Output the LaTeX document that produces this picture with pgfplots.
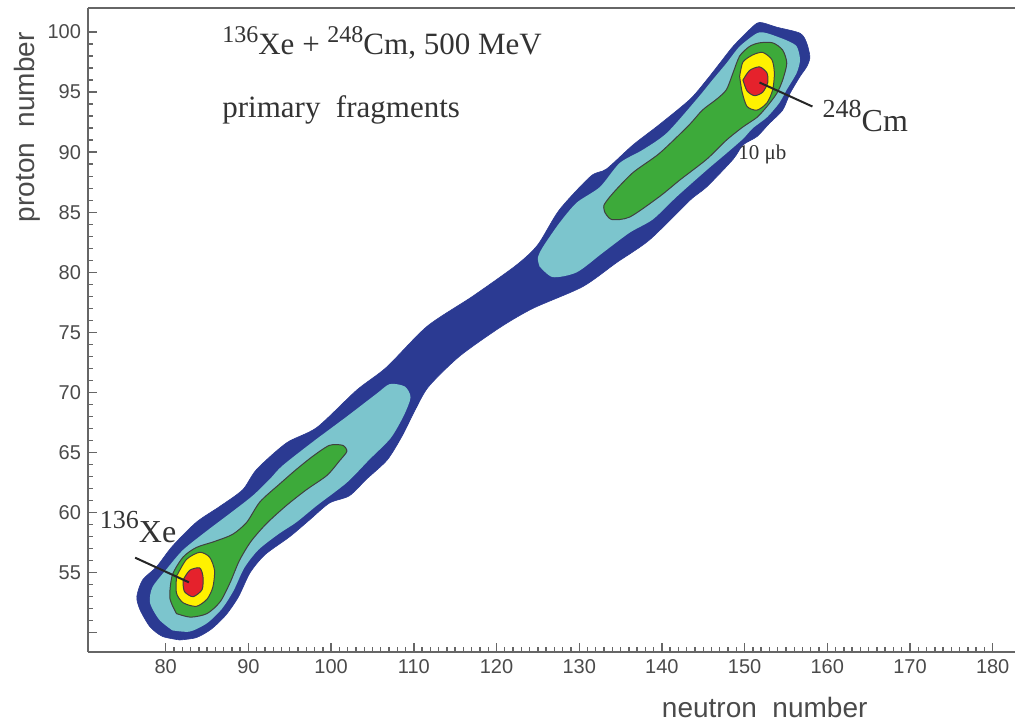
\documentclass[border=0pt]{standalone}
\usepackage{fontspec}
\setmainfont{Liberation Serif}
\setsansfont{Liberation Sans}
\usepackage{pgfplots}
\pgfplotsset{compat=1.18}

\definecolor{dkblue}{HTML}{2B3A92}
\definecolor{ltblue}{HTML}{7CC5CD}
\definecolor{cgreen}{HTML}{3DAA3A}
\definecolor{cyellow}{HTML}{FFF100}
\definecolor{cred}{HTML}{E5222C}
\definecolor{axisgray}{HTML}{666666}
\definecolor{tickgray}{HTML}{4A4A4A}
\definecolor{anncol}{HTML}{333333}

% superscript mass number: size, raise, text
\newcommand{\iso}[3]{\raisebox{#2}{\fontsize{#1}{#1}\selectfont #3}}

\begin{document}
\begin{tikzpicture}
\begin{axis}[
  scale only axis,
  width=463.5pt, height=322pt,
  xmin=70.6, xmax=182.7, ymin=48.4, ymax=102,
  axis x line*=bottom, axis y line*=left,
  axis line style={draw=axisgray, line width=0.9pt, -},
  xtick={80,90,...,180},
  ytick={50,55,...,100},
  yticklabels={,55,60,65,70,75,80,85,90,95,100},
  minor x tick num=9, minor y tick num=4,
  tick align=inside,
  major tick length=4.5pt, minor tick length=2.4pt,
  tick style={draw=axisgray, line width=0.7pt},
  tick label style={font=\sffamily\fontsize{10}{12}\selectfont, text=tickgray},
  /pgf/number format/assume math mode=true,
  xlabel={neutron\ \ number},
  ylabel={proton\ \ number},
  label style={font=\sffamily\fontsize{14}{16}\selectfont, text=tickgray},
  xlabel style={at={(axis description cs:0.730,-0.086)}, anchor=center},
  ylabel style={at={(axis description cs:-0.066,0.815)}, anchor=center},
  contour/.style={smooth, tension=0.45},
  clip=false,
]
% top frame line
\draw[axisgray, line width=0.9pt] (rel axis cs:0,1) -- (rel axis cs:1,1);

% outermost contour (10 mub)
\addplot[contour, fill=dkblue, draw=dkblue, line width=0.3pt] coordinates {
(81.7,49.4) (83.7,49.6) (85.5,50.3) (87.3,51.5) (88.8,53.0) (90.2,55.0)
(92.0,56.5) (95.0,58.0) (97.4,59.4) (99.8,60.8) (102.2,61.4) (104.3,62.8)
(106.8,64.4) (108.6,66.4) (110.2,68.6) (111.8,70.5) (115.5,73.0) (120.4,75.4)
(124.4,77.0) (130.4,78.8) (134.5,80.8) (138.5,82.7) (143.4,86.0) (145.4,87.1)
(148.6,89.4) (149.8,90.6) (151.5,91.3) (153.0,92.4) (154.6,93.5) (155.5,94.9)
(156.7,96.3) (157.5,97.1) (157.9,97.9) (157.5,99.1) (156.7,99.9) (153.9,100.4)
(151.8,100.8) (150.6,100.2) (148.6,98.8) (147.0,97.4) (145.4,96.0) (143.4,94.4)
(139.7,92.3) (136.5,90.6) (133.3,88.6) (131.4,88.0) (127.6,85.2) (125.0,82.3)
(122.4,80.6) (117.1,78.0) (111.6,75.5) (106.7,72.1) (103.1,70.2) (98.3,67.1)
(94.6,65.8) (91.0,63.6) (89.3,61.9) (86.5,60.5) (83.7,59.2) (80.8,57.2)
(78.9,55.5) (77.2,54.4) (76.5,53.0) (76.9,51.9) (78.1,50.5) (79.6,49.7)
(81.7,49.4)
} -- cycle;

% second level, lower and upper parts
\addplot[contour, fill=ltblue, draw=none] coordinates {
(80.8,50.2) (82.9,50.1) (85.0,50.8) (86.8,52.0) (88.2,53.5) (89.5,55.4)
(91.2,56.9) (93.6,58.2) (95.8,59.2) (98.3,60.6) (101.9,62.5) (104.6,64.4)
(107.2,66.2) (108.8,68.1) (109.6,69.6) (108.9,70.5) (107.1,70.7) (105.5,69.9)
(101.9,68.0) (97.8,65.9) (94.1,63.9) (92.6,62.8) (90.5,61.4) (87.7,59.9)
(85.0,58.5) (82.1,56.9) (80.1,55.3) (78.4,53.8) (78.1,52.5) (79.2,51.1)
(80.8,50.2)
} -- cycle;
\addplot[contour, fill=ltblue, draw=none] coordinates {
(125.2,80.5) (126.8,79.6) (129.7,80.0) (132.8,81.6) (136.1,83.3) (138.9,84.4)
(141.8,86.3) (145.4,88.5) (147.8,89.9) (149.8,91.1) (151.0,92.0) (152.7,92.9)
(154.2,94.1) (155.1,95.2) (156.3,96.6) (156.7,97.7) (156.3,98.8) (155.1,99.3)
(152.7,99.9) (151.5,99.9) (149.4,98.8) (147.8,97.4) (146.1,96.0) (144.2,94.4)
(140.6,91.6) (137.7,90.2) (134.9,89.1) (132.5,87.1) (129.7,85.8) (127.6,84.1)
(125.6,82.1) (125.0,81.2) (125.2,80.5)
} -- cycle;

% third level
\addplot[contour, fill=cgreen, draw=black!75, line width=0.5pt] coordinates {
(81.3,51.6) (83.0,51.3) (85.0,51.6) (86.6,52.6) (87.8,54.2) (88.9,56.0)
(90.3,57.6) (92.2,59.1) (94.6,60.6) (97.0,61.9) (99.5,63.1) (101.0,64.3)
(101.9,65.1) (101.4,65.6) (99.8,65.6) (97.8,64.7) (95.8,63.6) (93.8,62.4)
(91.4,60.9) (89.8,59.2) (88.1,58.2) (85.9,57.6) (83.7,57.1) (82.1,56.3)
(80.8,54.8) (80.5,52.9) (81.3,51.6)
} -- cycle;
\addplot[contour, fill=cgreen, draw=black!75, line width=0.5pt] coordinates {
(133.1,85.0) (133.9,84.4) (136.1,84.6) (139.7,86.3) (142.2,87.7) (145.4,89.4)
(147.8,91.0) (149.8,92.1) (151.5,92.9) (152.7,93.8) (153.9,94.9) (154.6,96.0)
(155.1,97.4) (154.6,98.5) (153.4,99.1) (151.8,99.1) (150.6,98.8) (149.4,98.0)
(148.6,96.6) (147.8,95.2) (146.6,94.4) (144.9,93.5) (143.2,92.2) (139.7,89.9)
(136.5,88.3) (134.1,86.6) (133.0,85.6) (133.1,85.0)
} -- cycle;

% fourth level
\addplot[contour, fill=cyellow, draw=black!75, line width=0.5pt] coordinates {
(81.3,54.7) (82.5,56.1) (84.1,56.7) (85.3,56.3) (85.9,55.2) (85.7,53.8)
(85.0,52.8) (83.7,52.2) (82.1,52.5) (81.3,53.3) (81.3,54.7)
} -- cycle;
\addplot[contour, fill=cyellow, draw=black!75, line width=0.5pt] coordinates {
(149.4,96.3) (149.8,97.5) (151.0,98.1) (152.2,98.3) (153.3,97.7) (153.6,96.6)
(153.4,95.2) (152.7,94.1) (151.5,93.5) (150.3,93.8) (149.7,95.0) (149.4,96.3)
} -- cycle;

% innermost level
\addplot[contour, fill=cred, draw=black!75, line width=0.5pt] coordinates {
(82.1,54.4) (82.9,55.2) (84.1,55.4) (84.5,54.7) (84.4,53.6) (83.3,53.0)
(82.3,53.4) (82.1,54.0) (82.1,54.4)
} -- cycle;
\addplot[contour, fill=cred, draw=black!75, line width=0.5pt] coordinates {
(149.8,96.0) (150.6,96.8) (151.8,97.1) (152.7,96.6) (152.8,95.8) (152.2,95.0)
(151.2,94.7) (150.3,95.1) (149.8,96.0)
} -- cycle;

% pointers to projectile and target
\addplot[black!85, line width=1pt] coordinates {(76.3,56.25) (82.8,54.2)};
\addplot[black!85, line width=1pt] coordinates {(151.8,95.8) (158.2,93.8)};

% annotations
\node[anchor=base west, inner sep=0, text=anncol, font=\fontsize{15.5}{18}\selectfont]
  at (axis cs:86.8,98.1) {\iso{12}{6pt}{136}Xe + \iso{12}{6pt}{248}Cm, 500 MeV};
\node[anchor=base west, inner sep=0, text=anncol, font=\fontsize{15.5}{18}\selectfont]
  at (axis cs:86.8,92.85) {primary\ \ fragments};
\node[anchor=base west, inner sep=0, text=anncol, font=\fontsize{16}{18}\selectfont]
  at (axis cs:72.0,57.5) {\iso{13}{7pt}{136}Xe};
\node[anchor=base west, inner sep=0, text=anncol, font=\fontsize{16}{18}\selectfont]
  at (axis cs:159.4,91.7) {\iso{13}{7pt}{248}Cm};
\node[anchor=base west, inner sep=0, text=anncol, font=\fontsize{10.5}{12}\selectfont]
  at (axis cs:149.2,89.4) {10 μb};
\end{axis}
\pgfresetboundingbox
\path ([xshift=-44pt,yshift=-36pt]current axis.south west) rectangle ([yshift=4pt]current axis.north east);
\end{tikzpicture}
\end{document}
